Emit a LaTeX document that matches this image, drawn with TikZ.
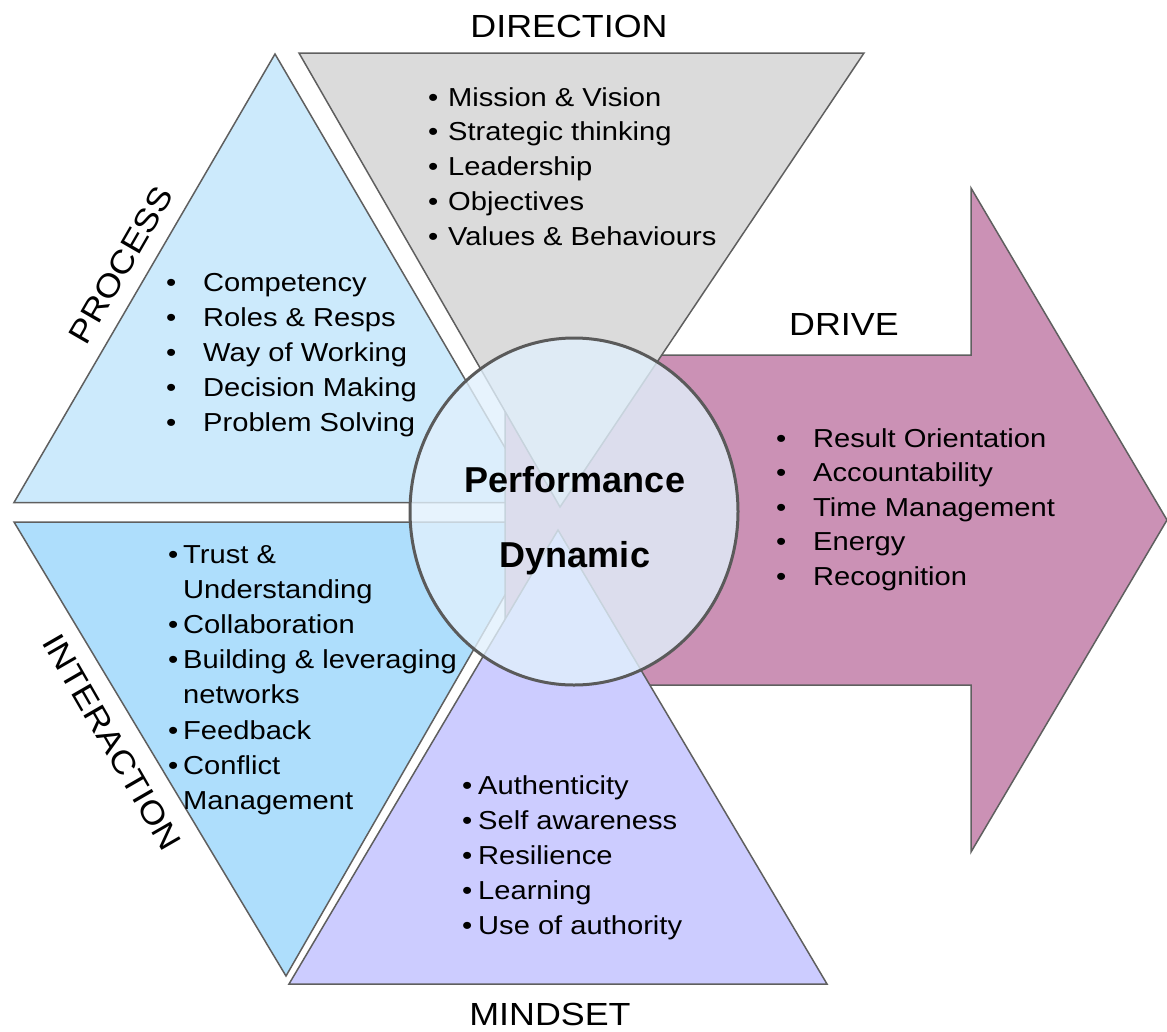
\documentclass[tikz,border=0pt]{standalone}
\usepackage{fontspec}
\setmainfont{Liberation Sans}[FakeStretch=1.12]
\newfontfamily\corefont{Liberation Sans}
\usetikzlibrary{shapes.geometric}
\definecolor{procc}{RGB}{204,234,252}
\definecolor{intc}{RGB}{174,222,252}
\definecolor{dirc}{RGB}{219,219,219}
\definecolor{mindc}{RGB}{204,204,255}
\definecolor{drivec}{RGB}{203,145,181}
\definecolor{outl}{RGB}{95,95,95}
\definecolor{ringc}{RGB}{90,90,90}
\definecolor{corefill}{RGB}{225,240,252}
\begin{document}
\begin{tikzpicture}[x=1pt,y=-1pt,
  edge/.style={draw=outl, line width=1.5pt},
  item/.style={anchor=base west, inner sep=0, font=\fontsize{26}{30}\selectfont},
  bul/.style={anchor=base west, inner sep=0, font=\fontsize{26}{30}\selectfont},
  title/.style={anchor=base, inner sep=0, font=\fontsize{32}{36}\selectfont},
  perf/.style={anchor=base, inner sep=0, font=\corefont\bfseries\fontsize{36}{40}\selectfont},
]
\useasboundingbox (0,0) rectangle (1167,1031);
% shapes
\filldraw[edge, fill=procc] (275,54) -- (14,502.5) -- (537,502.5) -- cycle;
\filldraw[edge, fill=intc] (14,522) -- (547,522) -- (286,976) -- cycle;
\filldraw[edge, fill=drivec] (505,355) -- (971,355) -- (971,188) -- (1167,520) -- (971,852) -- (971,685) -- (505,685) -- cycle;
\filldraw[edge, fill=dirc] (299,53) -- (864,53) -- (560,507) -- cycle;
\filldraw[edge, fill=mindc] (558,530) -- (827,984) -- (289,984) -- cycle;
% core
\node[ellipse, draw=ringc, line width=3pt, fill=corefill, fill opacity=0.8,
      minimum width=328pt, minimum height=347pt, inner sep=0] (core) at (574,511.5) {};
\node[perf] (perf1) at (575,492) {Performance};
\node[perf] (perf2) at (575,567) {Dynamic};
% titles
\node[title] (tdir) at (569,37) {DIRECTION};
\node[title] (tdrive) at (844,335) {DRIVE};
\node[title] (tmind) at (550,1025) {MINDSET};
\node[title, anchor=center, rotate=60] (tproc) at (121,265) {PROCESS};
\node[title, anchor=center, rotate=-60] (tint) at (112,742) {INTERACTION};
% direction list
\foreach \t [count=\i] in {Mission \& Vision,Strategic thinking,Leadership,Objectives,Values \& Behaviours}{
  \node[bul] (dirb\i) at (428,{106+34.9*(\i-1)}) {•};
  \node[item] (dirt\i) at (448,{106+34.9*(\i-1)}) {\t};
}
% process list
\foreach \t [count=\i] in {Competency,Roles \& Resps,Way of Working,Decision Making,Problem Solving}{
  \node[bul] (prob\i) at (166,{291+35*(\i-1)}) {•};
  \node[item] (prot\i) at (203,{291+35*(\i-1)}) {\t};
}
% drive list
\foreach \t [count=\i] in {Result Orientation,Accountability,Time Management,Energy,Recognition}{
  \node[bul] (drvb\i) at (776,{447+34.5*(\i-1)}) {•};
  \node[item] (drvt\i) at (813,{447+34.5*(\i-1)}) {\t};
}
% mindset list
\foreach \t [count=\i] in {Authenticity,Self awareness,Resilience,Learning,Use of authority}{
  \node[bul] (mndb\i) at (462,{794+35*(\i-1)}) {•};
  \node[item] (mndt\i) at (478,{794+35*(\i-1)}) {\t};
}
% interaction list
\foreach \t/\b [count=\i] in {Trust \&/1,Understanding/0,Collaboration/1,Building \& leveraging/1,networks/0,Feedback/1,Conflict/1,Management/0}{
  \ifnum\b=1 \node[bul] (intb\i) at (168,{563+35.2*(\i-1)}) {•};\fi
  \node[item] (intt\i) at (183,{563+35.2*(\i-1)}) {\t};
}
\end{tikzpicture}
\end{document}
